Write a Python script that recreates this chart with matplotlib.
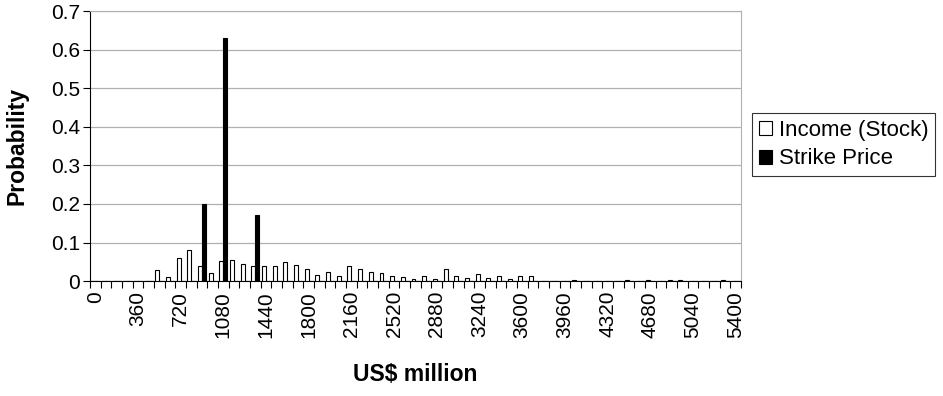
import matplotlib.pyplot as plt
import numpy as np

plt.rcParams['font.family'] = ['Liberation Sans', 'DejaVu Sans']

# categories 0, 90, ..., 5400 (US$ million)
categories = list(range(0, 5401, 90))

# Income (Stock) probabilities (non-zero categories)
income_nonzero = {
    540: 0.029, 630: 0.012, 720: 0.059, 810: 0.081, 900: 0.040, 990: 0.020,
    1080: 0.051, 1170: 0.055, 1260: 0.044, 1350: 0.040, 1440: 0.039,
    1530: 0.039, 1620: 0.050, 1710: 0.041, 1800: 0.031, 1890: 0.015,
    1980: 0.025, 2070: 0.014, 2160: 0.040, 2250: 0.031, 2340: 0.025,
    2430: 0.020, 2520: 0.013, 2610: 0.012, 2700: 0.006, 2790: 0.014,
    2880: 0.006, 2970: 0.031, 3060: 0.014, 3150: 0.007, 3240: 0.019,
    3330: 0.007, 3420: 0.014, 3510: 0.006, 3600: 0.013, 3690: 0.013,
    4050: 0.003, 4500: 0.003, 4680: 0.003, 4860: 0.003, 4950: 0.003,
    5310: 0.003,
}
strike_nonzero = {900: 0.20, 1080: 0.63, 1350: 0.171}

income = [income_nonzero.get(c, 0.0) for c in categories]
strike = [strike_nonzero.get(c, 0.0) for c in categories]
tick_labels = [str(c) if c % 360 == 0 else '' for c in categories]

fig = plt.figure(figsize=(9.43, 3.96), dpi=100)
ax = fig.add_axes([0.0954, 0.290, 0.6904, 0.682])

x = np.arange(len(categories))
w = 0.37
ax.bar(x - w / 2, income, width=w, color='white', edgecolor='black', linewidth=0.8,
       label='Income (Stock)', zorder=3)
ax.bar(x + w / 2, strike, width=w, color='black', edgecolor='black', linewidth=0.8,
       label='Strike Price', zorder=3)

ax.set_xlim(-0.5, len(categories) - 0.5)
ax.set_ylim(0, 0.7)
ax.set_yticks(np.arange(0, 0.71, 0.1))
ax.set_yticklabels(['0'] + ['%.1f' % v for v in np.arange(0.1, 0.71, 0.1)], fontsize=15)
ax.yaxis.grid(True, color='#b0b0b0', linewidth=0.9, zorder=0)

# category boundary ticks, labels at every 4th category
ax.set_xticks(np.arange(-0.5, len(categories), 1.0), minor=False)
ax.set_xticklabels([])
ax.set_xticks(x, minor=True)
ax.set_xticklabels(tick_labels, minor=True, rotation=90, fontsize=15)
ax.tick_params(axis='x', which='major', direction='out', length=5, width=0.8)
ax.tick_params(axis='x', which='minor', length=0, pad=7)
ax.tick_params(axis='y', direction='out', length=5, width=0.8, pad=2)

ax.spines['top'].set_color('#b0b0b0')
ax.spines['right'].set_color('#b0b0b0')
ax.spines['left'].set_color('black')
ax.spines['bottom'].set_color('black')

ax.set_ylabel('Probability', fontsize=16.5, fontweight='bold', labelpad=16)
ax.set_xlabel('US$ million', fontsize=16.5, fontweight='bold', labelpad=18)

leg = ax.legend(loc='upper left', bbox_to_anchor=(752 / 943, 1 - 113 / 396),
                bbox_transform=fig.transFigure, borderaxespad=0, fontsize=16,
                frameon=True, fancybox=False, edgecolor='black', handlelength=0.6,
                handleheight=0.6, handletextpad=0.3, borderpad=0.3, labelspacing=0.35)
leg.get_frame().set_linewidth(0.8)

fig.savefig('out.png', dpi=100)
